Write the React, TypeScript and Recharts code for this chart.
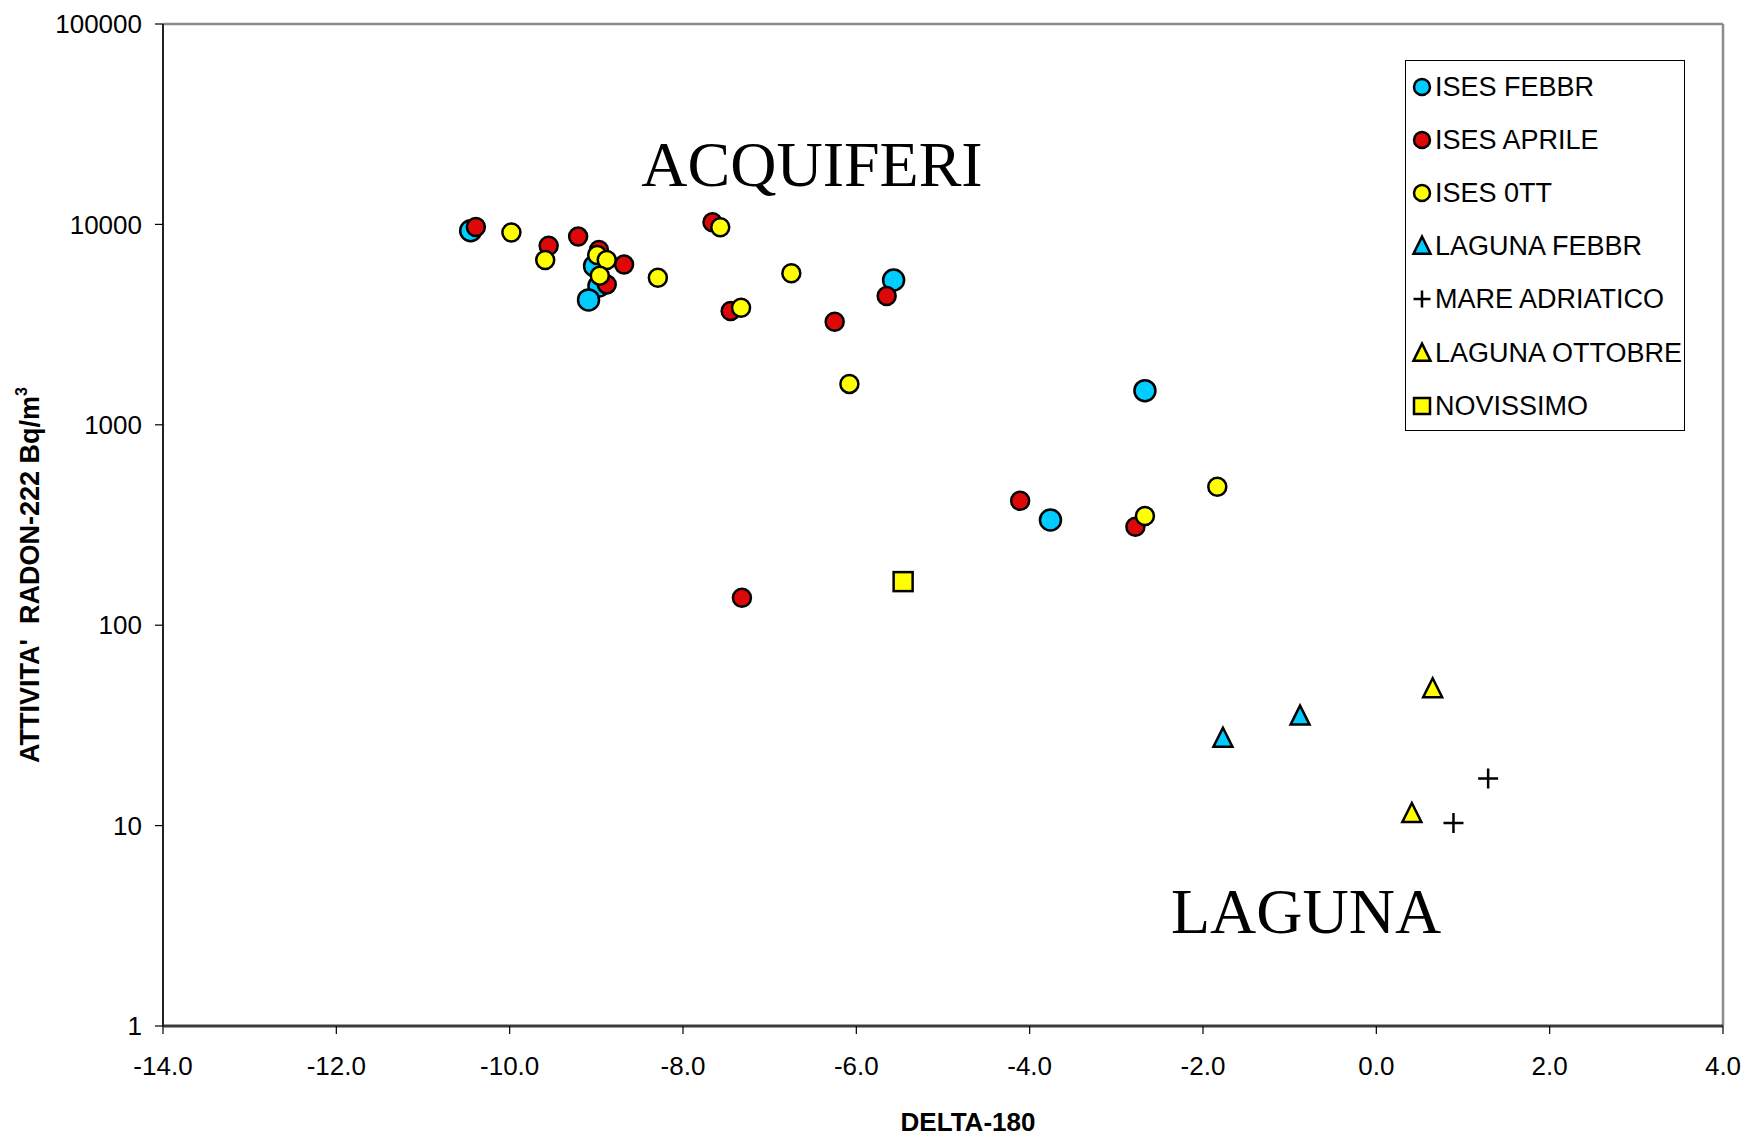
import React from 'react'
import {
  ScatterChart, Scatter, XAxis, YAxis, ReferenceLine, Legend,
} from 'recharts'

const FONT = 'Liberation Sans, Arial, Helvetica, sans-serif'

// axis ticks
const xTicks = [-14, -12, -10, -8, -6, -4, -2, 0, 2, 4]
const yTicks = [1, 10, 100, 1000, 10000, 100000]

// series (x = delta-18O, y = Rn-222 Bq/m3)
const isesFebbr = [
  { x: -10.45, y: 9300 }, { x: -9.02, y: 6200 }, { x: -8.97, y: 4930 },
  { x: -9.09, y: 4200 }, { x: -5.57, y: 5280 }, { x: -2.67, y: 1480 },
  { x: -3.76, y: 335 },
]
const isesAprile = [
  { x: -10.39, y: 9700 }, { x: -9.55, y: 7830 }, { x: -9.21, y: 8690 },
  { x: -8.97, y: 7450 }, { x: -8.68, y: 6300 }, { x: -8.88, y: 5020 },
  { x: -7.66, y: 10240 }, { x: -7.45, y: 3700 }, { x: -6.25, y: 3270 },
  { x: -5.65, y: 4390 }, { x: -4.11, y: 418 }, { x: -2.78, y: 310 },
  { x: -7.32, y: 137 },
]
const isesOtt = [
  { x: -9.98, y: 9120 }, { x: -9.59, y: 6640 }, { x: -8.99, y: 7030 },
  { x: -8.88, y: 6640 }, { x: -8.96, y: 5550 }, { x: -8.29, y: 5420 },
  { x: -7.57, y: 9670 }, { x: -7.33, y: 3840 }, { x: -6.75, y: 5700 },
  { x: -6.08, y: 1600 }, { x: -2.67, y: 351 }, { x: -1.835, y: 491 },
]
const lagunaFebbr = [{ x: -1.77, y: 27.3 }, { x: -0.88, y: 35.2 }]
const mareAdriatico = [{ x: 1.29, y: 17.2 }, { x: 0.89, y: 10.3 }]
const lagunaOttobre = [{ x: 0.65, y: 48.2 }, { x: 0.41, y: 11.5 }]
const novissimo = [{ x: -5.46, y: 165 }]

const CYAN = '#00CCFF'
const RED = '#DD0808'
const YELLOW = '#FFFF00'

const Dot = ({ cx, cy, r, fill }: any) => (
  <circle cx={cx} cy={cy} r={r} fill={fill} stroke="#000" strokeWidth={2.5} />
)
const Tri = ({ cx, cy, s, fill }: any) => (
  <path
    d={`M${cx},${cy - s * 0.55} L${cx + s / 2},${cy + s * 0.45} L${cx - s / 2},${cy + s * 0.45} Z`}
    fill={fill} stroke="#000" strokeWidth={2.5} strokeLinejoin="miter"
  />
)
const Plus = ({ cx, cy, s }: any) => (
  <path d={`M${cx - s / 2},${cy} H${cx + s / 2} M${cx},${cy - s / 2} V${cy + s / 2}`} stroke="#000" strokeWidth={2.5} fill="none" />
)
const Sq = ({ cx, cy, s, fill }: any) => (
  <rect x={cx - s / 2} y={cy - s / 2} width={s} height={s} fill={fill} stroke="#000" strokeWidth={2.5} />
)

const legendItems = [
  { name: 'ISES FEBBR', icon: (x: number, y: number) => <Dot cx={x} cy={y} r={8} fill={CYAN} /> },
  { name: 'ISES APRILE', icon: (x: number, y: number) => <Dot cx={x} cy={y} r={8} fill={RED} /> },
  { name: 'ISES 0TT', icon: (x: number, y: number) => <Dot cx={x} cy={y} r={8} fill={YELLOW} /> },
  { name: 'LAGUNA FEBBR', icon: (x: number, y: number) => <Tri cx={x} cy={y} s={17} fill={CYAN} /> },
  { name: 'MARE ADRIATICO', icon: (x: number, y: number) => <Plus cx={x} cy={y} s={17} /> },
  { name: 'LAGUNA OTTOBRE', icon: (x: number, y: number) => <Tri cx={x} cy={y} s={17} fill={YELLOW} /> },
  { name: 'NOVISSIMO', icon: (x: number, y: number) => <Sq cx={x} cy={y} s={16} fill={YELLOW} /> },
]

const LegendBox = () => (
  <div style={{
    position: 'relative', width: 278, height: 369, border: '1.5px solid #000',
    background: '#fff', fontFamily: FONT, fontSize: 27, color: '#000',
  }}>
    {legendItems.map((it, i) => (
      <div key={it.name} style={{ position: 'absolute', left: 4, top: 26 + i * 53.1 - 16, height: 32, display: 'flex', alignItems: 'center' }}>
        <svg width={24} height={32} style={{ overflow: 'visible' }}>{it.icon(12, 16)}</svg>
        <span style={{ marginLeft: 1, whiteSpace: 'nowrap', lineHeight: '32px' }}>{it.name}</span>
      </div>
    ))}
  </div>
)

export default function App() {
  return (
    <div style={{ position: 'absolute', left: 0, top: 0, background: '#fff' }}>
      <ScatterChart width={1745} height={1137} margin={{ top: 24, right: 22, bottom: 0, left: 0 }}>
        <XAxis
          type="number" dataKey="x" domain={[-14, 4]} ticks={xTicks}
          tickFormatter={(v: number) => v.toFixed(1)}
          height={111} tickSize={8} tickMargin={23}
          tick={{ fontSize: 26, fill: '#000', fontFamily: FONT }}
          axisLine={{ stroke: '#3c3c3c', strokeWidth: 3 }}
          tickLine={{ stroke: '#000', strokeWidth: 1.2 }}
        />
        <YAxis
          type="number" dataKey="y" scale="log" domain={[1, 100000]} ticks={yTicks}
          allowDataOverflow width={163} tickSize={8} tickMargin={13}
          tick={{ fontSize: 26, fill: '#000', fontFamily: FONT }}
          axisLine={{ stroke: '#222', strokeWidth: 2 }}
          tickLine={{ stroke: '#000', strokeWidth: 1.2 }}
        />
        <ReferenceLine y={100000} stroke="#8c8c8c" strokeWidth={2.5} />
        <ReferenceLine x={4} stroke="#8c8c8c" strokeWidth={2.5} />
        <Legend
          layout="vertical" align="center" verticalAlign="middle"
          wrapperStyle={{ top: 60, left: 1405, width: 281, height: 372 }}
          content={() => <LegendBox />}
        />
        <Scatter name="ISES FEBBR" data={isesFebbr} isAnimationActive={false}
          shape={(p: any) => <Dot cx={p.cx} cy={p.cy} r={10.5} fill={CYAN} />} />
        <Scatter name="ISES APRILE" data={isesAprile} isAnimationActive={false}
          shape={(p: any) => <Dot cx={p.cx} cy={p.cy} r={9} fill={RED} />} />
        <Scatter name="ISES 0TT" data={isesOtt} isAnimationActive={false}
          shape={(p: any) => <Dot cx={p.cx} cy={p.cy} r={9} fill={YELLOW} />} />
        <Scatter name="LAGUNA FEBBR" data={lagunaFebbr} isAnimationActive={false}
          shape={(p: any) => <Tri cx={p.cx} cy={p.cy} s={19} fill={CYAN} />} />
        <Scatter name="MARE ADRIATICO" data={mareAdriatico} isAnimationActive={false}
          shape={(p: any) => <Plus cx={p.cx} cy={p.cy} s={20} />} />
        <Scatter name="LAGUNA OTTOBRE" data={lagunaOttobre} isAnimationActive={false}
          shape={(p: any) => <Tri cx={p.cx} cy={p.cy} s={19} fill={YELLOW} />} />
        <Scatter name="NOVISSIMO" data={novissimo} isAnimationActive={false}
          shape={(p: any) => <Sq cx={p.cx} cy={p.cy} s={19} fill={YELLOW} />} />
        <text x={812} y={186} textAnchor="middle" fontFamily="Liberation Serif, Times New Roman, serif" fontSize={64} fill="#000">ACQUIFERI</text>
        <text x={1306} y={933} textAnchor="middle" fontFamily="Liberation Serif, Times New Roman, serif" fontSize={64} fill="#000">LAGUNA</text>
        <text x={968} y={1131} textAnchor="middle" fontFamily={FONT} fontSize={26} fontWeight="bold" fill="#000">DELTA-180</text>
        <text transform="translate(39,575) rotate(-90)" textAnchor="middle" fontFamily={FONT} fontSize={27} fontWeight="bold" fill="#000" style={{ whiteSpace: 'pre' }}>
          {"ATTIVITA'\u00A0 RADON-222 Bq/m"}<tspan fontSize={16} dy={-12}>3</tspan>
        </text>
      </ScatterChart>
    </div>
  )
}
